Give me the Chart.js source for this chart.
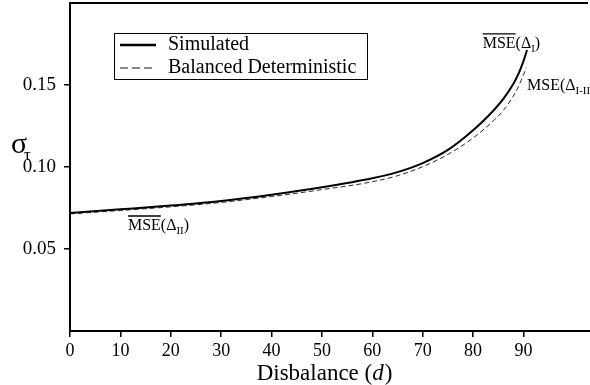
<!DOCTYPE html>
<html>
<head>
<meta charset="utf-8">
<script src="https://cdn.jsdelivr.net/npm/chart.js@4.4.1/dist/chart.umd.min.js"></script>
<style>
  html, body { margin: 0; padding: 0; background: #fff; }
  #wrap { width: 590px; height: 385px; }
</style>
</head>
<body>
<div id="wrap"><canvas id="sigmaChart"></canvas></div>
<script>
// disbalance d and sigma_tau for both curves
var simD = [0, 10, 20, 30, 40, 50, 60, 65, 70, 75, 80, 83, 86, 88, 89, 90, 90.7];
var simSigma = [0.0720, 0.0742, 0.0765, 0.0793, 0.0831, 0.0876, 0.0931, 0.0969, 0.1024, 0.1104, 0.1224, 0.1311, 0.1416, 0.1508, 0.1568, 0.1646, 0.1713];
var detD = [0, 10, 20, 30, 40, 50, 60, 65, 70, 75, 80, 84, 86, 88, 89, 90, 90.6];
var detSigma = [0.0714, 0.0735, 0.0757, 0.0784, 0.0820, 0.0862, 0.0910, 0.0947, 0.1002, 0.1077, 0.1177, 0.1281, 0.1345, 0.1433, 0.1491, 0.1563, 0.1606];
var xTicks = [0, 10, 20, 30, 40, 50, 60, 70, 80, 90];
var yTicks = [0.05, 0.10, 0.15];

var SERIF = '"Liberation Serif", "DejaVu Serif", serif';

function toPoints(xs, ys) {
  var pts = [];
  for (var i = 0; i < xs.length; i++) pts.push({x: xs[i], y: ys[i]});
  return pts;
}

// text labels near the curve ends (anchor in data units)
var curveNotes = [
  {x: 81.9, y: 0.1726, sub: 'I', bar: true},
  {x: 90.7, y: 0.1470, sub: 'I-II', bar: false},
  {x: 11.5, y: 0.0616, sub: 'II', bar: true}
];

function drawMse(ctx, x, y, sub, bar) {
  ctx.font = '16px ' + SERIF;
  ctx.textBaseline = 'alphabetic';
  ctx.textAlign = 'left';
  var w = ctx.measureText('MSE').width;
  ctx.fillText('MSE', x, y);
  if (bar) {
    ctx.lineWidth = 1.3;
    ctx.beginPath();
    ctx.moveTo(x, y - 14);
    ctx.lineTo(x + w, y - 14);
    ctx.stroke();
  }
  x += w;
  ctx.fillText('(\u0394', x, y);
  x += ctx.measureText('(\u0394').width;
  ctx.font = '11px ' + SERIF;
  ctx.fillText(sub, x, y + 4);
  x += ctx.measureText(sub).width;
  ctx.font = '16px ' + SERIF;
  ctx.fillText(')', x, y);
}

var extras = {
  id: 'extras',
  afterDraw: function(chart) {
    var ctx = chart.ctx;
    var area = chart.chartArea;
    var xs = chart.scales.x, ys = chart.scales.y;
    ctx.save();
    ctx.fillStyle = '#000';
    ctx.strokeStyle = '#000';

    // top frame line
    ctx.lineWidth = 2;
    ctx.beginPath();
    ctx.moveTo(area.left - 1, area.top);
    ctx.lineTo(chart.width - 2, area.top);
    ctx.stroke();

    // legend box
    var bx = 114, by = 33, bw = 253, bh = 46;
    ctx.lineWidth = 1;
    ctx.strokeRect(bx + 0.5, by + 0.5, bw, bh);
    chart.data.datasets.forEach(function(ds, i) {
      var ly = by + 12 + i * 23;
      ctx.lineWidth = i === 0 ? 2.5 : 1;
      ctx.strokeStyle = ds.borderColor;
      ctx.setLineDash(i === 0 ? [] : [8, 4]);
      ctx.beginPath();
      ctx.moveTo(bx + 6, ly);
      ctx.lineTo(bx + 42, ly);
      ctx.stroke();
      ctx.setLineDash([]);
      ctx.font = '20px ' + SERIF;
      ctx.textBaseline = 'middle';
      ctx.fillText(ds.label, bx + 54, ly);
    });
    ctx.strokeStyle = '#000';

    // notes at the curves
    curveNotes.forEach(function(n) {
      drawMse(ctx, xs.getPixelForValue(n.x), ys.getPixelForValue(n.y), n.sub, n.bar);
    });

    // y title: sigma_tau
    ctx.textBaseline = 'alphabetic';
    ctx.font = '30px ' + SERIF;
    ctx.fillText('\u03c3', 11, 153);
    ctx.font = '17px ' + SERIF;
    ctx.fillText('\u03c4', 24, 160);

    // x title with italic d
    ctx.font = '23px ' + SERIF;
    var t1 = 'Disbalance (', t2 = 'd', t3 = ')';
    var w1 = ctx.measureText(t1).width;
    ctx.font = 'italic 23px ' + SERIF;
    var w2 = ctx.measureText(t2).width;
    ctx.font = '23px ' + SERIF;
    var w3 = ctx.measureText(t3).width;
    var tx = 324 - (w1 + w2 + w3) / 2;
    ctx.fillText(t1, tx, 380);
    ctx.font = 'italic 23px ' + SERIF;
    ctx.fillText(t2, tx + w1, 380);
    ctx.font = '23px ' + SERIF;
    ctx.fillText(t3, tx + w1 + w2 + 1, 380);
    ctx.restore();
  }
};

var ctx = document.getElementById('sigmaChart').getContext('2d');
var sigmaChart = new Chart(ctx, {
  type: 'line',
  data: {
    datasets: [{
      label: 'Simulated',
      data: toPoints(simD, simSigma),
      borderColor: '#000',
      borderWidth: 2,
      pointRadius: 0,
      cubicInterpolationMode: 'monotone',
      fill: false
    }, {
      label: 'Balanced Deterministic',
      data: toPoints(detD, detSigma),
      borderColor: '#111',
      borderWidth: 0.9,
      borderDash: [5, 3],
      pointRadius: 0,
      cubicInterpolationMode: 'monotone',
      fill: false
    }]
  },
  options: {
    responsive: true,
    maintainAspectRatio: false,
    animation: false,
    layout: { padding: { top: 3, right: 0, left: 0, bottom: 0 } },
    plugins: {
      legend: { display: false },
      tooltip: { enabled: false }
    },
    scales: {
      x: {
        type: 'linear',
        min: 0,
        max: 103.2,
        afterBuildTicks: function(scale) {
          scale.ticks = xTicks.map(function(v) { return {value: v}; });
        },
        afterFit: function(scale) {
          scale.height = 54;
          scale.paddingLeft = 0;
          scale.paddingRight = 0;
        },
        grid: { drawOnChartArea: false, drawTicks: true, tickLength: 6, color: '#000', lineWidth: 1.5 },
        border: { display: true, color: '#000', width: 2 },
        ticks: {
          color: '#000',
          padding: 3,
          maxRotation: 0,
          autoSkip: false,
          font: { family: SERIF, size: 18 },
          callback: function(v) { return String(v); }
        }
      },
      y: {
        min: 0,
        max: 0.2,
        afterBuildTicks: function(scale) {
          scale.ticks = yTicks.map(function(v) { return {value: v}; });
        },
        afterFit: function(scale) {
          scale.width = 70;
          scale.paddingTop = 0;
          scale.paddingBottom = 0;
        },
        grid: { drawOnChartArea: false, drawTicks: true, tickLength: 6, color: '#000', lineWidth: 1.5 },
        border: { display: true, color: '#000', width: 2 },
        ticks: {
          color: '#000',
          padding: 8,
          autoSkip: false,
          font: { family: SERIF, size: 19 },
          callback: function(v) { return v.toFixed(2); }
        }
      }
    }
  },
  plugins: [extras]
});
</script>
</body>
</html>
